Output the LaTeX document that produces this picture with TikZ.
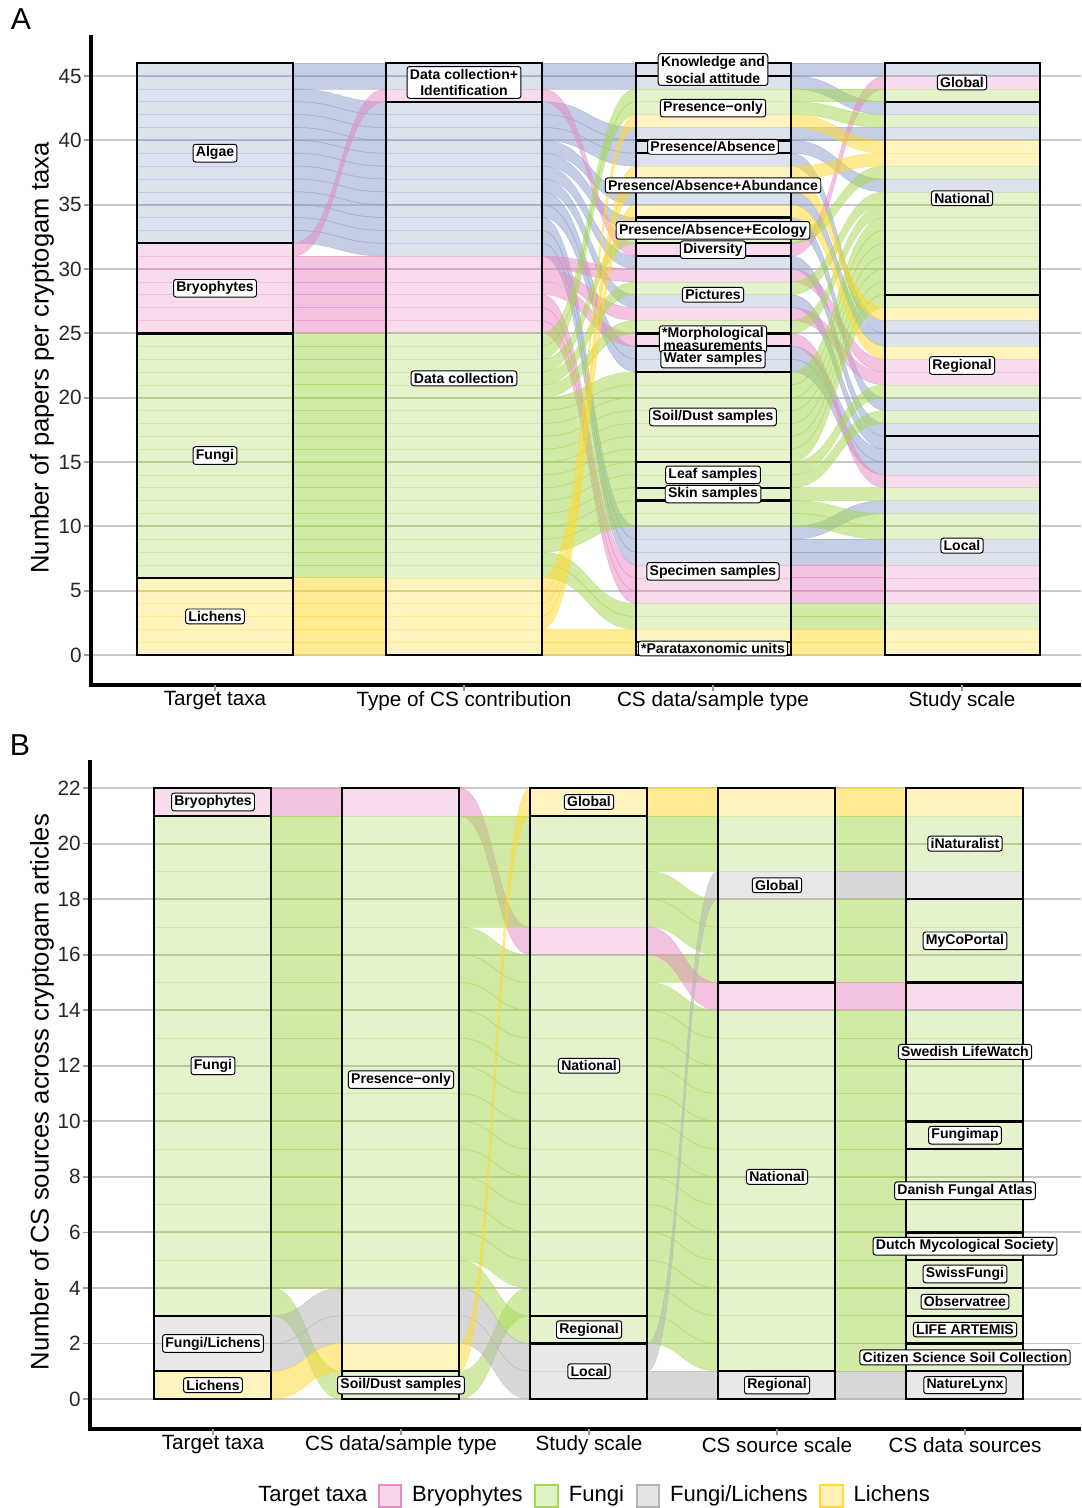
\documentclass[tikz,border=0pt]{standalone}
\usepackage{fontspec}
\setmainfont{Liberation Sans}
\usetikzlibrary{positioning}

\definecolor{algae}{HTML}{8DA0CB}
\definecolor{bryo}{HTML}{E78AC3}
\definecolor{fungi}{HTML}{A6D854}
\definecolor{lichen}{HTML}{FFD92F}
\definecolor{fulich}{HTML}{B3B3B3}
\definecolor{gridgray}{HTML}{C8C8C8}

\tikzset{
  lode/.style={fill=#1, fill opacity=.52, draw=#1, draw opacity=.45, line width=.45pt},
  cell/.style={fill=#1, fill opacity=.3, draw=#1, draw opacity=.2, line width=.4pt},
  stratum/.style={draw=black, line width=1.7pt},
  tag/.style={draw=black, fill=white, rounded corners=1.8pt, line width=.7pt, inner xsep=2pt, inner ysep=1.6pt,
    font=\bfseries\fontsize{10}{12}\selectfont, align=center},
  gridline/.style={draw=gridgray, line width=1.3pt},
  axisline/.style={draw=black, line width=2.4pt},
  tickmark/.style={draw=gray!80, line width=1.2pt},
  ticklab/.style={anchor=east, inner sep=0pt, font=\fontsize{14.7}{16}\selectfont, text=black!85},
  axtitle/.style={inner sep=0pt, font=\fontsize{14.7}{16}\selectfont},
  ytitle/.style={rotate=90, inner sep=0pt, font=\fontsize{18.2}{20}\selectfont},
  paneltag/.style={inner sep=0pt, font=\fontsize{21.5}{24}\selectfont},
  legtext/.style={inner sep=0pt, text height=11.5pt, text depth=3.3pt, font=\fontsize{15.7}{18}\selectfont},
  legkey/.style={draw=#1, line width=1.4pt, fill=#1!35, minimum size=16pt, inner sep=0pt},
}

% one alluvium between two axes: x1 x2 low-left low-right colour
\newcommand{\lodeflow}[5]{%
  \path[lode=#5] (#1,#3+1) .. controls ({(#1+#2)/2},#3+1) and ({(#1+#2)/2},#4+1) .. (#2,#4+1)
    -- (#2,#4) .. controls ({(#1+#2)/2},#4) and ({(#1+#2)/2},#3) .. (#1,#3) -- cycle;}
% one unit inside a stratum
\newcommand{\lodecell}[4]{\path[cell=#4] (#1,#3) rectangle (#2,#3+1);}

\begin{document}
\begin{tikzpicture}[x=0.025cm, y=-0.025cm]
\useasboundingbox (0,0) rectangle (1081,1508);

%% ---------------- panel A ----------------
\node[paneltag] (tagA) at (21,19) {A};
\begin{scope}[shift={(0,655)}, yscale=-12.867]
  \foreach \v in {0,5,...,45} {
    \draw[gridline] (91,\v) -- (1081,\v);
    \draw[tickmark] (84,\v) -- (91,\v);
    \node[ticklab] (tickA\v) at (82,\v) {\v};
  }
  % taxa -> contribution
  \foreach \a/\b/\c in {45/45/algae,44/44/algae,43/42/algae,42/41/algae,41/40/algae,40/39/algae,
      39/38/algae,38/37/algae,37/36/algae,36/35/algae,35/34/algae,34/33/algae,33/32/algae,32/31/algae,
      31/43/bryo,30/30/bryo,29/29/bryo,28/28/bryo,27/27/bryo,26/26/bryo,25/25/bryo} {
    \lodeflow{293}{386}{\a}{\b}{\c}
    \lodecell{137}{293}{\a}{\c}
    \lodecell{386}{542}{\b}{\c}
  }
  \foreach \a in {6,...,24} {
    \lodeflow{293}{386}{\a}{\a}{fungi}
    \lodecell{137}{293}{\a}{fungi}
    \lodecell{386}{542}{\a}{fungi}
  }
  \foreach \a in {0,...,5} {
    \lodeflow{293}{386}{\a}{\a}{lichen}
    \lodecell{137}{293}{\a}{lichen}
    \lodecell{386}{542}{\a}{lichen}
  }
  % contribution -> data/sample type
  \foreach \a/\b/\c in {45/45/algae,44/44/algae,42/40/algae,41/39/algae,40/38/algae,39/35/algae,
      38/33/algae,37/30/algae,36/27/algae,35/23/algae,34/22/algae,33/9/algae,32/8/algae,31/7/algae,
      43/31/bryo,30/29/bryo,29/26/bryo,28/24/bryo,27/6/bryo,26/5/bryo,25/4/bryo,
      24/43/fungi,23/42/fungi,22/32/fungi,21/28/fungi,20/25/fungi,19/21/fungi,18/20/fungi,
      17/19/fungi,16/18/fungi,15/17/fungi,14/16/fungi,13/15/fungi,12/14/fungi,11/13/fungi,
      10/12/fungi,9/11/fungi,8/10/fungi,7/3/fungi,6/2/fungi,
      5/41/lichen,4/37/lichen,3/36/lichen,2/34/lichen,1/1/lichen,0/0/lichen} {
    \lodeflow{542}{636}{\a}{\b}{\c}
    \lodecell{636}{791}{\b}{\c}
  }
  % data/sample type -> study scale
  \foreach \a/\b/\c in {45/45/algae,44/42/algae,40/40/algae,39/36/algae,38/25/algae,35/24/algae,
      33/19/algae,30/17/algae,27/16/algae,23/15/algae,22/14/algae,9/11/algae,8/8/algae,7/7/algae,
      31/44/bryo,29/22/bryo,26/21/bryo,24/13/bryo,6/6/bryo,5/5/bryo,4/4/bryo,
      43/43/fungi,42/41/fungi,32/37/fungi,28/35/fungi,25/34/fungi,21/33/fungi,20/32/fungi,
      19/31/fungi,18/30/fungi,17/29/fungi,16/28/fungi,15/27/fungi,14/20/fungi,13/18/fungi,
      12/12/fungi,11/10/fungi,10/9/fungi,3/3/fungi,2/2/fungi,
      41/39/lichen,37/38/lichen,36/26/lichen,34/23/lichen,1/1/lichen,0/0/lichen} {
    \lodeflow{791}{885}{\a}{\b}{\c}
    \lodecell{885}{1040}{\b}{\c}
  }
  % strata
  \foreach \lo/\hi in {0/6,6/25,25/32,32/46} \draw[stratum] (137,\lo) rectangle (293,\hi);
  \foreach \lo/\hi in {0/43,43/46} \draw[stratum] (386,\lo) rectangle (542,\hi);
  \foreach \lo/\hi in {0/1,1/12,12/13,13/15,15/22,22/24,24/25,25/31,31/32,32/34,34/39,39/40,40/45,45/46}
    \draw[stratum] (636,\lo) rectangle (791,\hi);
  \foreach \lo/\hi in {0/17,17/28,28/43,43/46} \draw[stratum] (885,\lo) rectangle (1040,\hi);
  % stratum labels
  \node[tag] (Aalgae) at (215,39) {Algae};
  \node[tag] (Abryo) at (215,28.5) {Bryophytes};
  \node[tag] (Afungi) at (215,15.5) {Fungi};
  \node[tag] (Alichen) at (215,3) {Lichens};
  \node[tag] (Adcid) at (464,44.5) {Data collection+\\Identification};
  \node[tag] (Adc) at (464,21.5) {Data collection};
  \node[tag] (Aknow) at (713,45.5) {Knowledge and\\social attitude};
  \node[tag] (Aponly) at (713,42.5) {Presence−only};
  \node[tag] (Apa) at (713,39.5) {Presence/Absence};
  \node[tag] (Apaab) at (713,36.5) {Presence/Absence+Abundance};
  \node[tag] (Apaeco) at (713,33) {Presence/Absence+Ecology};
  \node[tag] (Adiv) at (713,31.5) {Diversity};
  \node[tag] (Apict) at (713,28) {Pictures};
  \node[tag, font=\bfseries\fontsize{10}{7.6}\selectfont, inner ysep=1pt] (Amorph) at (713,24.55) {*Morphological\\measurements};
  \node[tag] (Awater) at (713,23) {Water samples};
  \node[tag] (Asoil) at (713,18.5) {Soil/Dust samples};
  \node[tag] (Aleaf) at (713,14) {Leaf samples};
  \node[tag] (Askin) at (713,12.5) {Skin samples};
  \node[tag] (Aspec) at (713,6.5) {Specimen samples};
  \node[tag] (Apara) at (713,0.5) {*Parataxonomic units};
  \node[tag] (Aglobal) at (962,44.5) {Global};
  \node[tag] (Anational) at (962,35.5) {National};
  \node[tag] (Aregional) at (962,22.5) {Regional};
  \node[tag] (Alocal) at (962,8.5) {Local};
\end{scope}
\draw[axisline] (91,35) -- (91,685) -- (1081,685);
\foreach \x/\t [count=\i] in {215/{Target taxa},464/{Type of CS contribution},713/{CS data/sample type},962/{Study scale}} {
  \draw[tickmark] (\x,685) -- (\x,691);
  \node[axtitle] (axA\i) at (\x,701) {\t};
}
\node[ytitle] (ytitA) at (42,358) {Number of papers per cryptogam taxa};

%% ---------------- panel B ----------------
\node[paneltag] (tagB) at (20,745) {B};
\begin{scope}[shift={(0,1399)}, yscale=-27.77]
  \foreach \v in {0,2,...,22} {
    \draw[gridline] (90,\v) -- (1081,\v);
    \draw[tickmark] (83,\v) -- (90,\v);
    \node[ticklab] (tickB\v) at (81,\v) {\v};
  }
  % taxa -> data/sample type
  \foreach \a/\b/\c in {21/21/bryo,3/0/fungi,2/3/fulich,1/2/fulich,0/1/lichen} {
    \lodeflow{271}{342}{\a}{\b}{\c}
    \lodecell{154}{271}{\a}{\c}
    \lodecell{342}{459}{\b}{\c}
  }
  \foreach \a in {4,...,20} {
    \lodeflow{271}{342}{\a}{\a}{fungi}
    \lodecell{154}{271}{\a}{fungi}
    \lodecell{342}{459}{\a}{fungi}
  }
  % data/sample type -> study scale
  \foreach \a/\b/\c in {21/16/bryo,20/20/fungi,19/19/fungi,18/18/fungi,17/17/fungi,
      16/15/fungi,15/14/fungi,14/13/fungi,13/12/fungi,12/11/fungi,11/10/fungi,10/9/fungi,
      9/8/fungi,8/7/fungi,7/6/fungi,6/5/fungi,5/4/fungi,4/2/fungi,0/3/fungi,
      3/1/fulich,2/0/fulich,1/21/lichen} {
    \lodeflow{459}{530}{\a}{\b}{\c}
    \lodecell{530}{647}{\b}{\c}
  }
  % study scale -> CS source scale
  \foreach \a/\b/\c in {21/21/lichen,20/20/fungi,19/19/fungi,18/17/fungi,17/16/fungi,15/15/fungi,
      14/13/fungi,13/12/fungi,12/11/fungi,11/10/fungi,10/9/fungi,9/8/fungi,8/7/fungi,7/6/fungi,
      6/5/fungi,5/4/fungi,4/3/fungi,3/2/fungi,2/1/fungi,16/14/bryo,1/18/fulich,0/0/fulich} {
    \lodeflow{647}{718}{\a}{\b}{\c}
    \lodecell{718}{835}{\b}{\c}
  }
  % CS source scale -> CS data sources
  \foreach \a/\c in {21/lichen,20/fungi,19/fungi,18/fulich,17/fungi,16/fungi,15/fungi,14/bryo,
      13/fungi,12/fungi,11/fungi,10/fungi,9/fungi,8/fungi,7/fungi,6/fungi,5/fungi,4/fungi,
      3/fungi,2/fungi,1/fungi,0/fulich} {
    \lodeflow{835}{906}{\a}{\a}{\c}
    \lodecell{906}{1023}{\a}{\c}
  }
  % strata
  \foreach \lo/\hi in {0/1,1/3,3/21,21/22} \draw[stratum] (154,\lo) rectangle (271,\hi);
  \foreach \lo/\hi in {0/1,1/22} \draw[stratum] (342,\lo) rectangle (459,\hi);
  \foreach \lo/\hi in {0/2,2/3,3/21,21/22} \draw[stratum] (530,\lo) rectangle (647,\hi);
  \foreach \lo/\hi in {0/1,1/15,15/22} \draw[stratum] (718,\lo) rectangle (835,\hi);
  \foreach \lo/\hi in {0/1,1/2,2/3,3/4,4/5,5/6,6/9,9/10,10/15,15/18,18/22}
    \draw[stratum] (906,\lo) rectangle (1023,\hi);
  % stratum labels
  \node[tag] (Bbryo) at (213,21.5) {Bryophytes};
  \node[tag] (Bfungi) at (213,12) {Fungi};
  \node[tag] (Bfulich) at (213,2) {Fungi/Lichens};
  \node[tag] (Blichen) at (213,0.5) {Lichens};
  \node[tag] (Bponly) at (401,11.5) {Presence−only};
  \node[tag] (Bsoil) at (401,0.5) {Soil/Dust samples};
  \node[tag] (Bsglobal) at (589,21.5) {Global};
  \node[tag] (Bsnational) at (589,12) {National};
  \node[tag] (Bsregional) at (589,2.5) {Regional};
  \node[tag] (Bslocal) at (589,1) {Local};
  \node[tag] (Bcglobal) at (777,18.5) {Global};
  \node[tag] (Bcnational) at (777,8) {National};
  \node[tag] (Bcregional) at (777,0.5) {Regional};
  \node[tag] (Binat) at (965,20) {iNaturalist};
  \node[tag] (Bmyco) at (965,16.5) {MyCoPortal};
  \node[tag] (Bswed) at (965,12.5) {Swedish LifeWatch};
  \node[tag] (Bfmap) at (965,9.5) {Fungimap};
  \node[tag] (Bdan) at (965,7.5) {Danish Fungal Atlas};
  \node[tag] (Bdutch) at (965,5.5) {Dutch Mycological Society};
  \node[tag] (Bswiss) at (965,4.5) {SwissFungi};
  \node[tag] (Bobs) at (965,3.5) {Observatree};
  \node[tag] (Blife) at (965,2.5) {LIFE ARTEMIS};
  \node[tag] (Bcssc) at (965,1.5) {Citizen Science Soil Collection};
  \node[tag] (Blynx) at (965,0.5) {NatureLynx};
\end{scope}
\draw[axisline] (90,760) -- (90,1429) -- (1081,1429);
\foreach \x/\t [count=\i] in {213/{Target taxa},401/{CS data/sample type},589/{Study scale},777/{CS source scale},965/{CS data sources}} {
  \draw[tickmark] (\x,1429) -- (\x,1435);
  \node[axtitle] (axB\i) at (\x,1445) {\t};
}
\node[ytitle] (ytitB) at (42,1092) {Number of CS sources across cryptogam articles};

%% legend
\node[legtext, anchor=west] (legtitle) at (258,1496) {Target taxa};
\node[legkey=bryo, right=7pt of legtitle] (keybryo) {};
\node[legtext, right=7pt of keybryo] (legbryo) {Bryophytes};
\node[legkey=fungi, right=8pt of legbryo] (keyfungi) {};
\node[legtext, right=7pt of keyfungi] (legfungi) {Fungi};
\node[legkey=fulich, right=8pt of legfungi] (keyfulich) {};
\node[legtext, right=7pt of keyfulich] (legfulich) {Fungi/Lichens};
\node[legkey=lichen, right=8pt of legfulich] (keylichen) {};
\node[legtext, right=7pt of keylichen] (leglichen) {Lichens};
\end{tikzpicture}
\end{document}
